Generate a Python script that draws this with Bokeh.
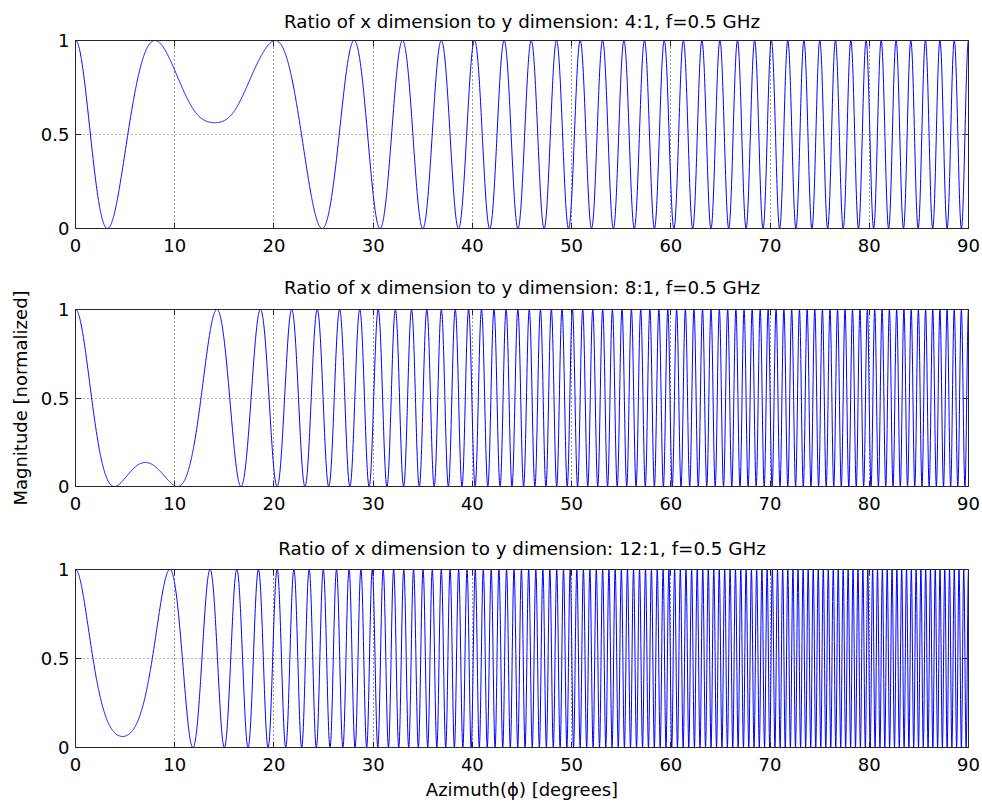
import numpy as np
from bokeh.plotting import figure
from bokeh.layouts import column
from bokeh.models import LinearAxis, FixedTicker, Range1d
from bokeh.embed import file_html
from bokeh.resources import INLINE

FONT = "DejaVu Sans"

# ---- text -----------------------------------------------------------------
titles = [
    "Ratio of x dimension to y dimension: 4:1, f=0.5 GHz",
    "Ratio of x dimension to y dimension: 8:1, f=0.5 GHz",
    "Ratio of x dimension to y dimension: 12:1, f=0.5 GHz",
]
y_label = "Magnitude [normalized]"
x_label = "Azimuth(\u03d5) [degrees]"
x_ticks = [0, 10, 20, 30, 40, 50, 60, 70, 80, 90]
y_ticks = [0, 0.5, 1]
y_tick_labels = {0: "0", 0.5: "0.5", 1: "1"}

# ---- data ------------------------------------------------------------------
# Fringe order = number of unit peaks passed (signed), read at azimuth anchors
# by counting peaks; fractional orders at the turning points come from the
# depth of the shallow extremum (0.56, 0.14, 0.07).
top_deg = [0, 2.5, 5, 7.5, 10, 12, 14, 16, 18, 20, 22.5, 25, 27.5, 30, 35,
           40, 45, 50, 55, 60, 65, 70, 75, 80, 85, 90]
top_order = [0, 0.40, 0.72, 0.96, 1.13, 1.21, 1.23, 1.21, 1.13, 1.01, 0.78,
             0.48, 0.10, -0.36, -1.50, -2.93, -4.65, -6.63, -8.87, -11.34,
             -14.03, -16.92, -19.99, -23.21, -26.55, -30.00]

mid_deg = [0, 2.5, 5, 7.1, 10, 12.5, 15, 17.5, 20, 22.5, 25, 30, 35, 40, 45,
           50, 55, 60, 65, 70, 75, 80, 85, 90]
mid_order = [0, 0.36, 0.57, 0.62, 0.52, 0.27, -0.14, -0.70, -1.40, -2.26,
             -3.27, -5.72, -8.73, -12.29, -16.36, -20.92, -25.92, -31.34,
             -37.13, -43.24, -49.64, -56.26, -63.07, -70.00]

bot_deg = [0, 1.5, 3, 4.76, 6.5, 8, 9.5, 11, 12.5, 15, 17.5, 20, 22.5, 25,
           30, 35, 40, 45, 50, 55, 60, 65, 70, 75, 80, 85, 90]
bot_order = [0, 0.22, 0.36, 0.42, 0.36, 0.22, 0.00, -0.30, -0.68, -1.50,
             -2.55, -3.82, -5.31, -7.02, -11.08, -15.97, -21.65, -28.08,
             -35.21, -42.98, -51.34, -60.22, -69.56, -79.28, -89.31, -99.58,
             -110.00]

sample_step_deg = 0.02   # azimuth sampling of the plotted trace


def spline(xk, yk, xq):
    """Not-a-knot cubic spline through the read anchors."""
    xk = np.asarray(xk, float)
    yk = np.asarray(yk, float)
    n = len(xk)
    h = np.diff(xk)
    d = np.diff(yk) / h
    A = np.zeros((n, n))
    r = np.zeros(n)
    for i in range(1, n - 1):
        A[i, i - 1] = h[i - 1]
        A[i, i] = 2 * (h[i - 1] + h[i])
        A[i, i + 1] = h[i]
        r[i] = 6 * (d[i] - d[i - 1])
    A[0, 0], A[0, 1], A[0, 2] = h[1], -(h[0] + h[1]), h[0]
    A[-1, -3], A[-1, -2], A[-1, -1] = h[-1], -(h[-2] + h[-1]), h[-2]
    M = np.linalg.solve(A, r)
    idx = np.clip(np.searchsorted(xk, xq, side="right") - 1, 0, n - 2)
    t = xq - xk[idx]
    hi = h[idx]
    b = d[idx] - hi * (2 * M[idx] + M[idx + 1]) / 6
    return (yk[idx] + b * t + M[idx] / 2 * t**2
            + (M[idx + 1] - M[idx]) / (6 * hi) * t**3)


phi = np.round(np.arange(0, int(round(90 / sample_step_deg)) + 1) * sample_step_deg, 4)


def trace(deg, order):
    o = spline(deg, order, phi)
    return np.cos(np.pi * o) ** 2


AX = "#262626"
LEFT, FRAME_W, RIGHT = 75, 893, 12


def style_axis(ax, labels=True):
    ax.major_tick_in = 6
    ax.major_tick_out = 0
    ax.minor_tick_line_color = None
    ax.axis_line_color = AX
    ax.major_tick_line_color = AX
    ax.major_label_text_font = FONT
    if labels:
        ax.major_label_text_font_size = "18px"
        ax.major_label_text_color = "black"
    else:
        ax.major_label_text_color = None
        ax.major_label_standoff = 0


def make_panel(title, deg, order, b_top, frame_h, b_bottom, title_standoff,
               ylab=None, xlab=None):
    p = figure(width=LEFT + FRAME_W + RIGHT, height=b_top + frame_h + b_bottom,
               min_border_left=LEFT, min_border_right=RIGHT,
               min_border_top=b_top, min_border_bottom=b_bottom,
               x_range=Range1d(0, 90), y_range=Range1d(0, 1),
               output_backend="svg", toolbar_location=None,
               background_fill_color="white", border_fill_color="white")
    p.outline_line_color = AX
    p.outline_line_width = 1
    p.title.text = title
    p.title.text_font = FONT
    p.title.text_font_size = "18.3px"
    p.title.text_font_style = "normal"
    p.title.text_color = "black"
    p.title.align = "center"
    p.title.standoff = title_standoff

    xax = p.xaxis[0]
    yax = p.yaxis[0]
    style_axis(xax)
    style_axis(yax)
    xax.ticker = FixedTicker(ticks=x_ticks)
    yax.ticker = FixedTicker(ticks=y_ticks)
    yax.major_label_overrides = y_tick_labels
    xax.major_label_standoff = 10
    yax.major_label_standoff = 6

    if ylab:
        yax.axis_label = ylab
        yax.axis_label_text_font = FONT
        yax.axis_label_text_font_size = "18px"
        yax.axis_label_text_font_style = "normal"
        yax.axis_label_text_color = "black"
        yax.axis_label_standoff = 7
    if xlab:
        xax.axis_label = xlab
        xax.axis_label_text_font = FONT
        xax.axis_label_text_font_size = "18px"
        xax.axis_label_text_font_style = "normal"
        xax.axis_label_text_color = "black"
        xax.axis_label_standoff = 5

    top_ax = LinearAxis(ticker=FixedTicker(ticks=x_ticks))
    style_axis(top_ax, labels=False)
    right_ax = LinearAxis(ticker=FixedTicker(ticks=y_ticks))
    style_axis(right_ax, labels=False)
    p.add_layout(top_ax, "above")
    p.add_layout(right_ax, "right")

    p.xgrid.ticker = FixedTicker(ticks=x_ticks)
    p.ygrid.ticker = FixedTicker(ticks=y_ticks)
    p.xgrid.grid_line_color = "#333333"
    p.ygrid.grid_line_color = "#777777"
    p.xgrid.grid_line_dash = "1 3"
    p.ygrid.grid_line_dash = "1 3"

    p.line(phi, trace(deg, order), line_color="#0000ff", line_width=1)
    return p


p1 = make_panel(titles[0], top_deg, top_order, 40, 188, 33, 17)
p2 = make_panel(titles[1], mid_deg, mid_order, 48, 177, 38, 24, ylab=y_label)
p3 = make_panel(titles[2], bot_deg, bot_order, 45, 178, 57, 22, xlab=x_label)

layout = column(p1, p2, p3, spacing=0)
open("out.html", "w").write(file_html(layout, INLINE))
